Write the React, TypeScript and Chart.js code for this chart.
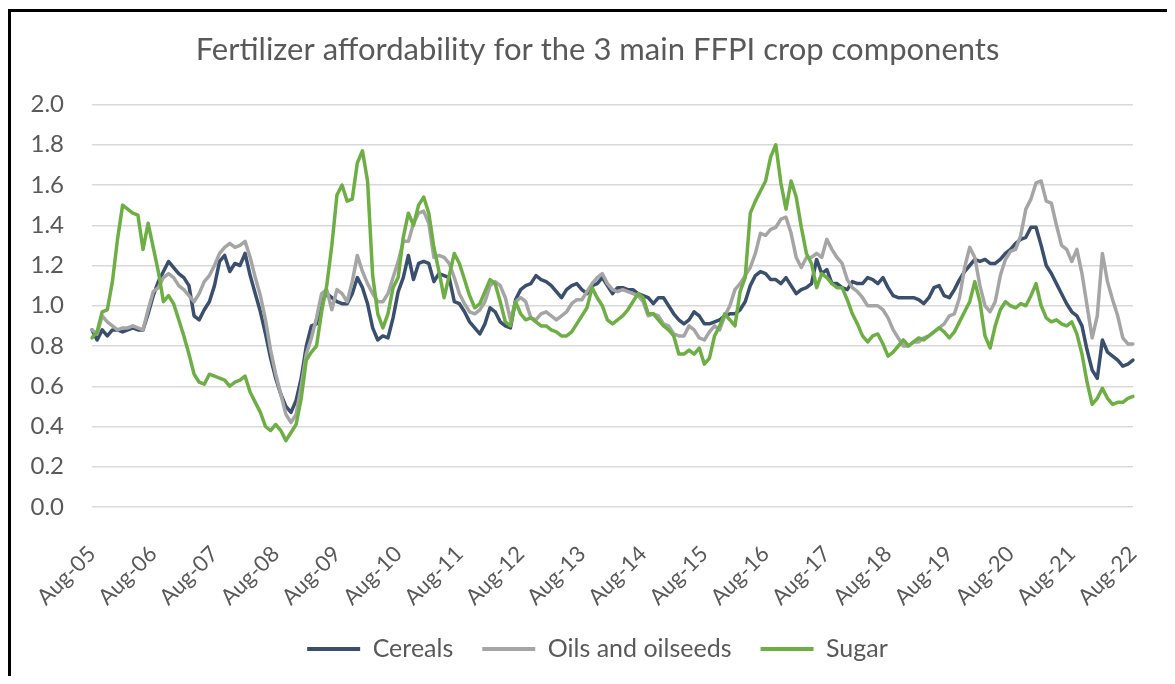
import React, { useEffect, useRef } from 'react';
import { Chart, registerables } from 'chart.js';

Chart.register(...registerables);

const TITLE = 'Fertilizer affordability for the 3 main FFPI crop components';
const MONTH_NAMES = ['Jan', 'Feb', 'Mar', 'Apr', 'May', 'Jun', 'Jul', 'Aug', 'Sep', 'Oct', 'Nov', 'Dec'];
const START_YEAR = 2005;
const START_MONTH = 7; // August

// Monthly values, Aug-05 .. Aug-22 (one row per Aug..Jul year)
const cereals = [
  0.88, 0.83, 0.88, 0.85, 0.88, 0.88, 0.87, 0.88, 0.89, 0.88, 0.88, 0.96,
  1.05, 1.12, 1.17, 1.22, 1.19, 1.16, 1.14, 1.10, 0.95, 0.93, 0.98, 1.02,
  1.10, 1.22, 1.25, 1.17, 1.21, 1.20, 1.26, 1.15, 1.06, 0.97, 0.86, 0.74,
  0.64, 0.56, 0.50, 0.47, 0.53, 0.64, 0.80, 0.90, 0.91, 1.02, 1.06, 1.04,
  1.02, 1.01, 1.01, 1.06, 1.14, 1.09, 1.01, 0.89, 0.83, 0.85, 0.84, 0.94,
  1.07, 1.14, 1.25, 1.13, 1.21, 1.22, 1.21, 1.12, 1.16, 1.15, 1.14, 1.02,
  1.01, 0.97, 0.92, 0.89, 0.86, 0.91, 0.99, 0.97, 0.92, 0.90, 0.89, 1.03,
  1.08, 1.10, 1.11, 1.15, 1.13, 1.12, 1.10, 1.07, 1.04, 1.08, 1.10, 1.11,
  1.08, 1.06, 1.10, 1.11, 1.14, 1.10, 1.06, 1.09, 1.09, 1.08, 1.08, 1.06,
  1.05, 1.04, 1.01, 1.04, 1.04, 1.00, 0.96, 0.93, 0.91, 0.93, 0.97, 0.95,
  0.91, 0.91, 0.92, 0.93, 0.95, 0.96, 0.96, 0.98, 1.02, 1.10, 1.15, 1.17,
  1.16, 1.13, 1.13, 1.11, 1.14, 1.10, 1.06, 1.08, 1.09, 1.11, 1.23, 1.16,
  1.18, 1.11, 1.11, 1.09, 1.08, 1.12, 1.11, 1.11, 1.14, 1.13, 1.11, 1.14,
  1.09, 1.05, 1.04, 1.04, 1.04, 1.04, 1.03, 1.01, 1.04, 1.09, 1.10, 1.05,
  1.04, 1.08, 1.13, 1.17, 1.20, 1.23, 1.22, 1.23, 1.21, 1.21, 1.23, 1.26,
  1.28, 1.31, 1.33, 1.34, 1.39, 1.39, 1.30, 1.20, 1.16, 1.11, 1.06, 1.01,
  0.97, 0.95, 0.90, 0.78, 0.68, 0.64, 0.83, 0.77, 0.75, 0.73, 0.70, 0.71,
  0.73,
];

const oils = [
  0.88, 0.86, 0.95, 0.92, 0.90, 0.88, 0.89, 0.89, 0.90, 0.89, 0.88, 0.98,
  1.07, 1.09, 1.14, 1.16, 1.14, 1.10, 1.08, 1.05, 1.02, 1.06, 1.12, 1.15,
  1.20, 1.26, 1.29, 1.31, 1.29, 1.30, 1.32, 1.24, 1.14, 1.05, 0.93, 0.78,
  0.66, 0.56, 0.46, 0.42, 0.46, 0.60, 0.76, 0.84, 0.94, 1.06, 1.08, 0.98,
  1.08, 1.06, 1.02, 1.12, 1.25, 1.17, 1.11, 1.06, 1.02, 1.02, 1.06, 1.14,
  1.22, 1.32, 1.32, 1.41, 1.46, 1.47, 1.41, 1.24, 1.25, 1.24, 1.21, 1.14,
  1.06, 1.01, 0.97, 0.96, 0.98, 1.02, 1.10, 1.12, 1.10, 1.04, 0.93, 1.02,
  1.04, 1.02, 0.94, 0.93, 0.96, 0.97, 0.95, 0.93, 0.95, 0.97, 1.01, 1.03,
  1.03, 1.07, 1.11, 1.14, 1.16, 1.11, 1.08, 1.07, 1.08, 1.07, 1.06, 1.05,
  1.02, 0.95, 0.96, 0.95, 0.91, 0.90, 0.86, 0.85, 0.85, 0.90, 0.88, 0.84,
  0.83, 0.87, 0.90, 0.88, 0.95, 1.00, 1.08, 1.11, 1.15, 1.19, 1.26, 1.36,
  1.35, 1.38, 1.39, 1.43, 1.44, 1.36, 1.24, 1.19, 1.24, 1.24, 1.26, 1.24,
  1.33, 1.28, 1.24, 1.21, 1.13, 1.09, 1.07, 1.04, 1.00, 1.00, 1.00, 0.98,
  0.94, 0.88, 0.84, 0.80, 0.80, 0.82, 0.82, 0.84, 0.85, 0.87, 0.89, 0.91,
  0.95, 0.96, 1.04, 1.19, 1.29, 1.24, 1.10, 1.00, 0.97, 1.02, 1.15, 1.23,
  1.27, 1.28, 1.35, 1.48, 1.53, 1.61, 1.62, 1.52, 1.51, 1.40, 1.30, 1.28,
  1.22, 1.28, 1.16, 1.00, 0.84, 0.95, 1.26, 1.12, 1.03, 0.95, 0.84, 0.81,
  0.81,
];

const sugar = [
  0.84, 0.87, 0.97, 0.98, 1.12, 1.33, 1.50, 1.48, 1.46, 1.45, 1.28, 1.41,
  1.29, 1.17, 1.02, 1.05, 1.01, 0.93, 0.85, 0.76, 0.66, 0.62, 0.61, 0.66,
  0.65, 0.64, 0.63, 0.60, 0.62, 0.63, 0.65, 0.57, 0.52, 0.47, 0.40, 0.38,
  0.41, 0.38, 0.33, 0.37, 0.41, 0.54, 0.73, 0.77, 0.80, 0.97, 1.10, 1.30,
  1.55, 1.60, 1.52, 1.53, 1.71, 1.77, 1.62, 1.15, 0.96, 0.89, 0.96, 1.09,
  1.14, 1.34, 1.46, 1.40, 1.50, 1.54, 1.46, 1.29, 1.17, 1.04, 1.15, 1.26,
  1.21, 1.13, 1.05, 0.99, 1.01, 1.07, 1.13, 1.11, 1.02, 0.92, 0.90, 1.02,
  0.96, 0.93, 0.94, 0.92, 0.90, 0.90, 0.88, 0.87, 0.85, 0.85, 0.87, 0.91,
  0.95, 0.99, 1.09, 1.04, 1.00, 0.93, 0.91, 0.93, 0.95, 0.98, 1.02, 1.06,
  1.04, 0.96, 0.96, 0.93, 0.90, 0.88, 0.85, 0.76, 0.76, 0.78, 0.76, 0.79,
  0.71, 0.74, 0.85, 0.90, 0.96, 0.93, 0.90, 1.07, 1.14, 1.46, 1.52, 1.57,
  1.62, 1.74, 1.80, 1.61, 1.48, 1.62, 1.54, 1.39, 1.26, 1.21, 1.09, 1.16,
  1.14, 1.11, 1.09, 1.09, 1.03, 0.96, 0.91, 0.85, 0.82, 0.85, 0.86, 0.81,
  0.75, 0.77, 0.80, 0.83, 0.80, 0.82, 0.84, 0.83, 0.85, 0.87, 0.89, 0.87,
  0.84, 0.87, 0.92, 0.97, 1.02, 1.12, 1.02, 0.85, 0.79, 0.90, 0.98, 1.02,
  1.00, 0.99, 1.01, 1.00, 1.05, 1.11, 1.00, 0.94, 0.92, 0.93, 0.91, 0.90,
  0.92, 0.86, 0.76, 0.62, 0.51, 0.54, 0.59, 0.54, 0.51, 0.52, 0.52, 0.54,
  0.55,
];

const labels = cereals.map((_, i) => {
  const m = (START_MONTH + i) % 12;
  const y = START_YEAR + Math.floor((START_MONTH + i) / 12);
  return `${MONTH_NAMES[m]}-${String(y % 100).padStart(2, '0')}`;
});

const SERIES_NAMES = ['Cereals', 'Oils and oilseeds', 'Sugar'];
const SERIES_COLORS = ['#3A4F6E', '#A5A5A5', '#6DAE45'];

const FONT = 'Lato';
const TEXT_COLOR = '#595959';

export default function App() {
  const ref = useRef<HTMLCanvasElement | null>(null);

  useEffect(() => {
    if (!ref.current) return;
    const values = [cereals, oils, sugar];
    const chart = new Chart(ref.current, {
      type: 'line',
      data: {
        labels,
        datasets: values.map((data, k) => ({
          label: SERIES_NAMES[k],
          data,
          borderColor: SERIES_COLORS[k],
          backgroundColor: SERIES_COLORS[k],
          borderWidth: 3.5,
          pointRadius: 0,
          tension: 0,
          borderJoinStyle: 'round' as const,
          borderCapStyle: 'round' as const,
          order: 3 - k,
        })),
      },
      options: {
        responsive: false,
        animation: false,
        layout: { padding: { left: 0, right: 0, top: 0, bottom: 5.5 } },
        plugins: {
          title: {
            display: true,
            text: TITLE,
            color: TEXT_COLOR,
            font: { family: FONT, size: 31, weight: 'normal' },
            padding: { top: 19.4, bottom: 35.9 },
          },
          legend: {
            position: 'bottom',
            labels: {
              color: TEXT_COLOR,
              font: { family: FONT, size: 25 },
              boxWidth: 53,
              boxHeight: 4,
              padding: 29,
              sort: (a: any, b: any) => a.datasetIndex - b.datasetIndex,
              generateLabels: (chart: any) =>
                Chart.defaults.plugins.legend.labels
                  .generateLabels(chart)
                  .map((l: any) => ({ ...l, lineWidth: 0, fillStyle: SERIES_COLORS[l.datasetIndex] })),
            },
          },
          tooltip: { enabled: false },
        },
        scales: {
          x: {
            grid: { display: false },
            border: { display: false },
            ticks: {
              autoSkip: false,
              minRotation: 45,
              maxRotation: 45,
              padding: 26,
              color: TEXT_COLOR,
              font: { family: FONT, size: 22 },
              callback: (_v: any, idx: number) => (idx % 12 === 0 ? labels[idx] : ''),
            },
            afterFit: (s: any) => {
              s.height = 100.5;
            },
          },
          y: {
            min: 0,
            max: 2,
            grid: { color: '#D9D9D9', lineWidth: 1.5, drawTicks: false },
            border: { display: false },
            ticks: {
              stepSize: 0.2,
              padding: 28,
              color: TEXT_COLOR,
              font: { family: FONT, size: 24 },
              callback: (v: any) => Number(v).toFixed(1),
            },
            afterFit: (s: any) => {
              s.width = 81;
            },
          },
          yRight: {
            type: 'linear',
            position: 'right',
            grid: { display: false },
            border: { display: false },
            ticks: { display: false },
            afterFit: (s: any) => {
              s.width = 51;
            },
          },
        },
      },
    });
    return () => chart.destroy();
  }, []);

  return (
    <div
      style={{
        position: 'relative',
        top: 1,
        width: 1159,
        height: 668,
        boxSizing: 'border-box',
        borderTop: '3px solid #000',
        borderLeft: '3px solid #000',
        overflow: 'hidden',
        background: '#fff',
      }}
    >
      <canvas ref={ref} width={1173} height={665} style={{ display: 'block' }} />
    </div>
  );
}
